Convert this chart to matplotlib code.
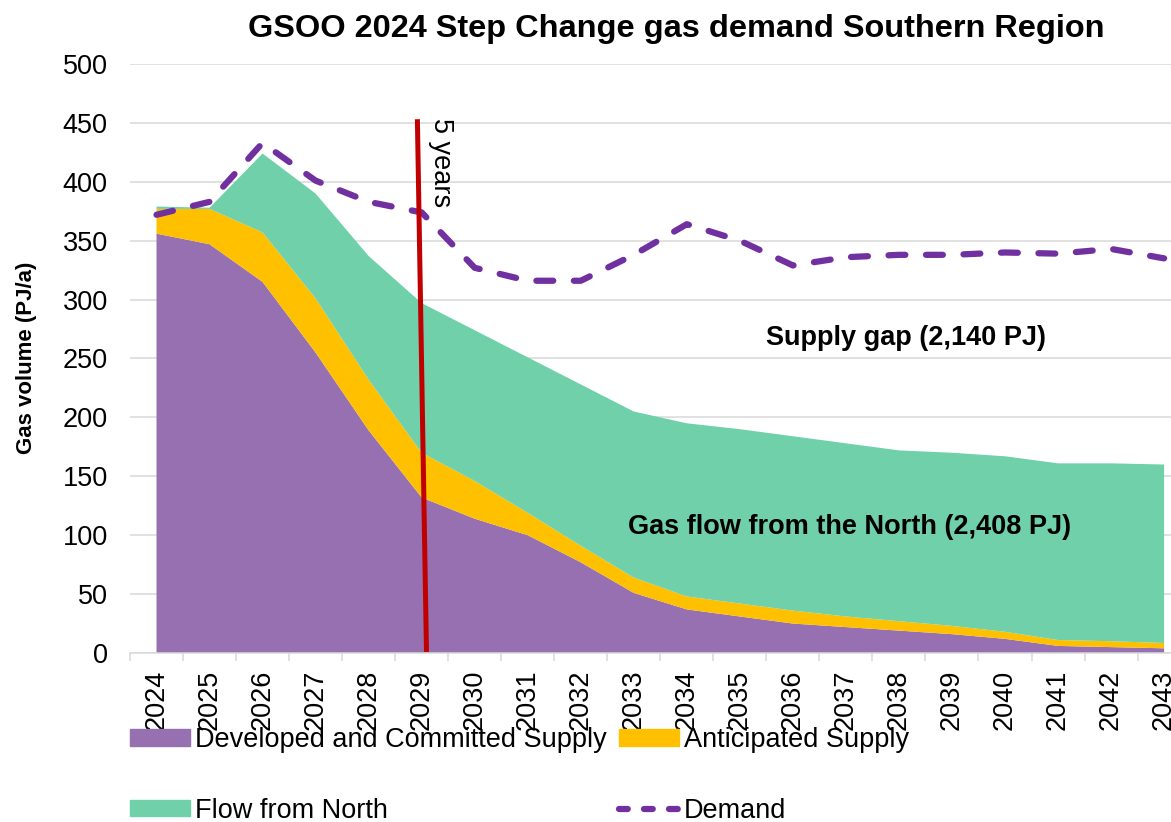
import numpy as np
import matplotlib
matplotlib.use("Agg")
import matplotlib.pyplot as plt
from matplotlib.lines import Line2D
from matplotlib.patches import Patch

plt.rcParams['font.family'] = ['Liberation Sans', 'DejaVu Sans']

# data (PJ/a)
years = list(range(2024, 2044))
developed = [356, 347, 315, 255, 189, 132, 114, 100, 77, 51, 37, 31, 25, 22, 19, 16, 12, 6, 5, 4]
anticipated = [21, 30, 42, 46, 43, 38, 32, 19, 14, 13, 11, 11, 11, 9, 8, 7, 6, 5, 5, 4.5]
flow_north = [2, 1, 67, 89, 105, 127, 128, 132, 137, 141, 147, 148, 148, 147, 145, 147, 149, 150, 151, 151.5]
demand = [372, 383, 433, 401, 383, 374, 327, 316, 316, 338, 364, 350, 329, 336, 338, 338, 340, 339, 343, 335]

c_dev = '#9670B0'
c_ant = '#FFC000'
c_flow = '#70D0AA'
c_dem = '#7030A0'

fig = plt.figure(figsize=(11.71, 8.22), dpi=100)
ax = fig.add_axes([130 / 1171, 169 / 822, 1 - 130 / 1171, (653 - 64) / 822])

x = np.arange(len(years))
ax.stackplot(x, developed, anticipated, flow_north,
             colors=[c_dev, c_ant, c_flow], linewidth=0, zorder=2)
ax.plot(x, demand, color=c_dem, lw=4.5, dashes=(2.7, 3.3),
        dash_capstyle='round', solid_capstyle='round', zorder=4)

# 5 year marker
ax.plot([4.92, 5.09], [451, 3], color='#C00000', lw=3.6, zorder=5)
ax.text(5.36, 454, '5 years', rotation=270, ha='center', va='top', fontsize=19.5, zorder=6)

ax.text(14.13, 267, 'Supply gap (2,140 PJ)', ha='center', va='center',
        fontsize=19.5, fontweight='bold')
ax.text(13.07, 107, 'Gas flow from the North (2,408 PJ)', ha='center', va='center',
        fontsize=19.5, fontweight='bold', zorder=6)

ax.set_yticks(range(0, 501, 50))
ax.yaxis.grid(True, color='#D9D9D9', lw=1.1, zorder=0)
ax.set_axisbelow(True)
ax.set_xticks(x)
ax.set_xticklabels([str(y) for y in years], rotation=90, fontsize=19.5)
ax.set_xticks(np.arange(-0.5, 19.6, 1), minor=True)
ax.tick_params(axis='x', which='major', length=0, pad=12)
ax.tick_params(axis='x', which='minor', length=6, color='#D9D9D9', width=1.1)
ax.tick_params(axis='y', length=0, pad=16, labelsize=19.5)
ax.set_ylim(0, 500)
ax.set_xlim(-0.5, 19.13)
for s in ['left', 'right', 'top']:
    ax.spines[s].set_visible(False)
ax.spines['bottom'].set_color('#D9D9D9')
ax.spines['bottom'].set_linewidth(1.1)

fig.text(676 / 1171, 1 - 29 / 822, 'GSOO 2024 Step Change gas demand Southern Region',
         ha='center', va='center', fontsize=23.4, fontweight='bold')
fig.text(27 / 1171, 1 - 358 / 822, 'Gas volume (PJ/a)', rotation=90,
         ha='center', va='center', fontsize=16, fontweight='bold')

handles = [Patch(color=c_dev, label='Developed and Committed Supply'),
           Patch(color=c_flow, label='Flow from North'),
           Patch(color=c_ant, label='Anticipated Supply'),
           Line2D([], [], color=c_dem, lw=4.5, dashes=(1.4, 2.6),
                  dash_capstyle='round', label='Demand')]
fig.legend(handles=handles, ncol=2, loc='upper left',
           bbox_to_anchor=(130 / 1171, 1 - 727 / 822), frameon=False,
           fontsize=19.5, handlelength=2.2, handleheight=0.55, handletextpad=0.2,
           columnspacing=0.45, labelspacing=1.65, borderpad=0, borderaxespad=0)

fig.savefig('out.png', dpi=100)
